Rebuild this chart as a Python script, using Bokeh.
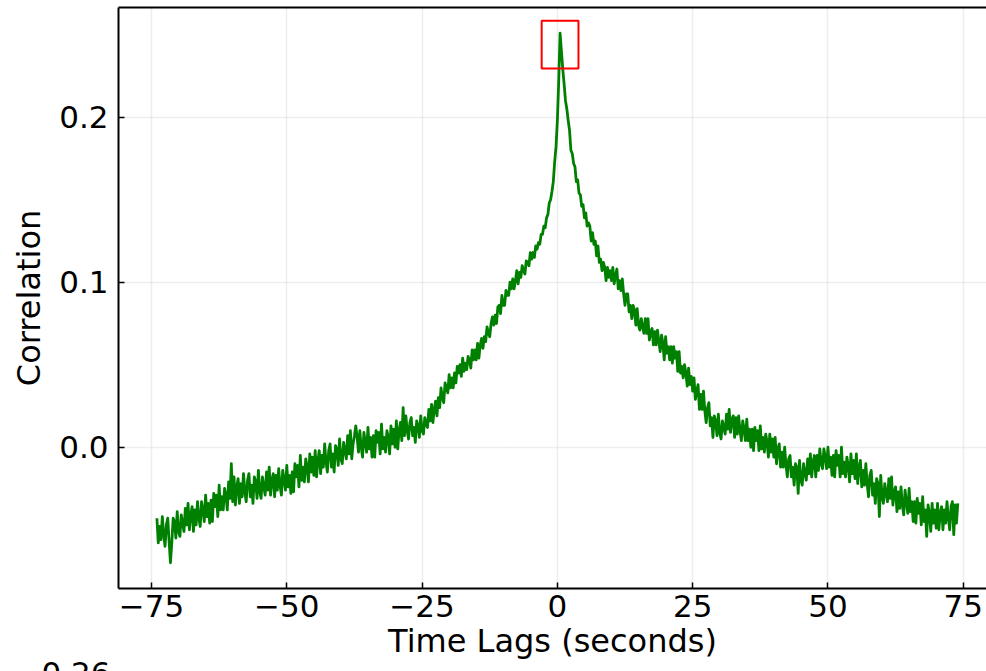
import numpy as np
from bokeh.plotting import figure
from bokeh.models import (FixedTicker, NumeralTickFormatter, BoxAnnotation,
                          Title, Range1d, LinearAxis)
from bokeh.embed import file_html
from bokeh.resources import INLINE

# Cross-correlation sampled every 0.25 s of lag, from -74 s to +74 s
# (one row = 5 s of lag)
lag_start, lag_stop, lag_step = -74.0, 74.0, 0.25
correlation = [
    -0.043, -0.058, -0.048, -0.056, -0.042, -0.053, -0.060, -0.047, -0.043, -0.057,
    -0.070, -0.058, -0.043, -0.045, -0.055, -0.039, -0.051, -0.054, -0.041, -0.046,
    -0.051, -0.037, -0.047, -0.034, -0.050, -0.041, -0.036, -0.051, -0.038, -0.047,
    -0.033, -0.043, -0.048, -0.033, -0.038, -0.045, -0.029, -0.042, -0.034, -0.046,
    -0.032, -0.045, -0.028, -0.036, -0.029, -0.042, -0.023, -0.038, -0.030, -0.038,
    -0.025, -0.029, -0.038, -0.021, -0.031, -0.010, -0.033, -0.018, -0.035, -0.024,
    -0.019, -0.034, -0.022, -0.030, -0.016, -0.027, -0.033, -0.020, -0.016, -0.030,
    -0.023, -0.034, -0.018, -0.021, -0.031, -0.014, -0.027, -0.031, -0.018, -0.024,
    -0.029, -0.015, -0.026, -0.012, -0.029, -0.020, -0.016, -0.030, -0.017, -0.026,
    -0.013, -0.023, -0.029, -0.014, -0.020, -0.026, -0.011, -0.024, -0.017, -0.028,
    -0.015, -0.027, -0.010, -0.018, -0.011, -0.024, -0.005, -0.020, -0.012, -0.021,
    -0.007, -0.012, -0.021, -0.004, -0.015, -0.006, -0.017, -0.002, -0.018, -0.008,
    -0.002, -0.016, -0.005, -0.012, 0.002, -0.009, -0.015, -0.002, 0.002, -0.012,
    -0.004, -0.015, 0.001, -0.001, -0.011, 0.005, -0.007, -0.010, 0.003, -0.002,
    -0.007, 0.007, -0.004, 0.010, -0.007, 0.002, 0.007, 0.013, 0.006, -0.003,
    0.010, 0.000, -0.006, 0.009, 0.003, -0.003, 0.012, -0.001, 0.006, -0.006,
    0.007, -0.006, 0.010, 0.003, 0.009, -0.004, 0.014, -0.001, 0.006, -0.003,
    0.010, 0.006, -0.004, 0.013, 0.002, 0.011, 0.000, 0.016, -0.001, 0.010,
    0.015, 0.004, 0.024, 0.007, 0.019, 0.010, 0.005, 0.015, 0.018, 0.007,
    0.012, 0.003, 0.016, 0.013, 0.006, 0.019, 0.010, 0.008, 0.018, 0.014,
    0.012, 0.023, 0.016, 0.026, 0.015, 0.023, 0.028, 0.019, 0.030, 0.024,
    0.036, 0.030, 0.027, 0.039, 0.036, 0.033, 0.044, 0.036, 0.042, 0.036,
    0.045, 0.039, 0.049, 0.045, 0.050, 0.043, 0.054, 0.046, 0.051, 0.047,
    0.055, 0.053, 0.048, 0.059, 0.053, 0.059, 0.053, 0.063, 0.054, 0.062,
    0.066, 0.060, 0.067, 0.064, 0.073, 0.069, 0.067, 0.075, 0.079, 0.074,
    0.080, 0.075, 0.085, 0.086, 0.081, 0.092, 0.086, 0.086, 0.095, 0.092,
    0.092, 0.100, 0.096, 0.102, 0.096, 0.101, 0.107, 0.099, 0.106, 0.103,
    0.110, 0.107, 0.105, 0.113, 0.112, 0.110, 0.118, 0.114, 0.118, 0.115,
    0.122, 0.120, 0.124, 0.123, 0.129, 0.129, 0.134, 0.133, 0.139, 0.141,
    0.148, 0.150, 0.155, 0.161, 0.173, 0.182, 0.198, 0.222, 0.251, 0.240,
    0.229, 0.220, 0.210, 0.205, 0.198, 0.192, 0.180, 0.178, 0.172, 0.170,
    0.161, 0.162, 0.154, 0.153, 0.146, 0.147, 0.139, 0.142, 0.134, 0.136,
    0.134, 0.125, 0.130, 0.123, 0.125, 0.116, 0.122, 0.112, 0.114, 0.107,
    0.112, 0.109, 0.101, 0.109, 0.103, 0.107, 0.101, 0.109, 0.099, 0.104,
    0.108, 0.096, 0.101, 0.095, 0.102, 0.093, 0.086, 0.093, 0.093, 0.082,
    0.086, 0.078, 0.086, 0.083, 0.074, 0.084, 0.074, 0.071, 0.078, 0.073,
    0.069, 0.078, 0.069, 0.078, 0.065, 0.070, 0.072, 0.062, 0.070, 0.062,
    0.071, 0.064, 0.058, 0.068, 0.063, 0.053, 0.067, 0.057, 0.061, 0.053,
    0.061, 0.051, 0.061, 0.054, 0.058, 0.046, 0.058, 0.045, 0.049, 0.042,
    0.050, 0.045, 0.037, 0.048, 0.038, 0.043, 0.034, 0.042, 0.029, 0.034,
    0.038, 0.023, 0.032, 0.023, 0.034, 0.022, 0.015, 0.024, 0.027, 0.013,
    0.018, 0.006, 0.019, 0.016, 0.007, 0.020, 0.009, 0.005, 0.016, 0.012,
    0.008, 0.020, 0.011, 0.023, 0.009, 0.017, 0.019, 0.006, 0.018, 0.008,
    0.019, 0.010, 0.004, 0.016, 0.011, 0.004, 0.017, 0.004, 0.011, 0.000,
    0.011, -0.002, 0.012, 0.004, 0.010, -0.002, 0.013, -0.001, 0.006, -0.003,
    0.008, 0.003, -0.006, 0.008, -0.003, 0.005, -0.006, 0.006, -0.010, -0.001,
    0.002, -0.012, -0.003, -0.012, 0.000, -0.011, -0.018, -0.007, -0.005, -0.018,
    -0.012, -0.023, -0.010, -0.012, -0.028, -0.008, -0.020, -0.023, -0.010, -0.016,
    -0.020, -0.007, -0.016, -0.004, -0.018, -0.009, -0.005, -0.018, -0.005, -0.014,
    -0.001, -0.010, -0.013, -0.001, -0.006, -0.013, 0.000, -0.012, -0.006, -0.017,
    -0.005, -0.018, -0.002, -0.011, -0.005, -0.018, 0.000, -0.016, -0.009, -0.018,
    -0.006, -0.011, -0.021, -0.004, -0.016, -0.008, -0.019, -0.004, -0.022, -0.012,
    -0.008, -0.024, -0.014, -0.023, -0.010, -0.022, -0.030, -0.017, -0.014, -0.029,
    -0.022, -0.034, -0.019, -0.022, -0.042, -0.017, -0.030, -0.034, -0.022, -0.028,
    -0.033, -0.019, -0.031, -0.018, -0.035, -0.027, -0.024, -0.039, -0.027, -0.037,
    -0.024, -0.035, -0.041, -0.026, -0.033, -0.040, -0.025, -0.039, -0.033, -0.045,
    -0.033, -0.046, -0.031, -0.040, -0.034, -0.047, -0.030, -0.045, -0.038, -0.054,
    -0.035, -0.040, -0.051, -0.034, -0.046, -0.038, -0.049, -0.034, -0.050, -0.040,
    -0.036, -0.050, -0.038, -0.046, -0.033, -0.043, -0.050, -0.036, -0.033, -0.053,
    -0.035, -0.046, -0.034,
]
lags = np.arange(lag_start, lag_stop + lag_step / 2, lag_step)

x_ticks = [-75, -50, -25, 0, 25, 50, 75]
x_tick_labels = ["\u221275", "\u221250", "\u221225", "0", "25", "50", "75"]
y_ticks = [0.0, 0.1, 0.2]
next_panel_label = "0.26"

FONT = "DejaVu Sans"
TICK_SIZE = "31px"
LABEL_SIZE = "32px"

p = figure(width=986, height=671, output_backend="svg", toolbar_location=None,
           x_range=Range1d(-81.1, 79.3), y_range=Range1d(-0.0856, 0.2665),
           min_border_left=118, min_border_right=0, min_border_top=7,
           min_border_bottom=83,
           x_axis_label="Time Lags (seconds)", y_axis_label="Correlation")
p.outline_line_color = None
p.background_fill_color = "white"
p.border_fill_color = "white"

xax = p.below[0]
yax = p.left[0]

xax.ticker = FixedTicker(ticks=x_ticks)
xax.major_label_overrides = dict(zip(x_ticks, x_tick_labels))
yax.ticker = FixedTicker(ticks=y_ticks)
yax.formatter = NumeralTickFormatter(format="0.0")

for ax in (xax, yax):
    ax.axis_line_color = "black"
    ax.axis_line_width = 2
    ax.major_tick_in = 6
    ax.major_tick_out = 0
    ax.major_tick_line_color = "black"
    ax.major_tick_line_width = 1.5
    ax.minor_tick_line_color = None
    ax.major_label_text_font = FONT
    ax.major_label_text_font_size = TICK_SIZE
    ax.major_label_text_color = "black"
    ax.axis_label_text_font = FONT
    ax.axis_label_text_font_size = LABEL_SIZE
    ax.axis_label_text_font_style = "normal"
    ax.axis_label_text_color = "black"
xax.major_label_standoff = 6
xax.axis_label_standoff = 2
yax.major_label_standoff = 10
yax.axis_label_standoff = 8

# top spine: a bare axis line without ticks or labels
top = LinearAxis(ticker=FixedTicker(ticks=[]), major_label_text_font_size="0px",
                 major_label_standoff=0, major_tick_line_color=None,
                 minor_tick_line_color=None, axis_line_color="black",
                 axis_line_width=2)
p.add_layout(top, "above")

for g in (p.xgrid[0], p.ygrid[0]):
    g.grid_line_color = "#dcdcdc"
    g.grid_line_width = 1.5
    g.grid_line_dash = "1 1"

p.line(lags, correlation, line_color="#008000", line_width=2.8,
       line_join="round")

# highlight box around the maximum
peak_i = int(np.argmax(correlation))
peak_lag, peak_val = lags[peak_i], correlation[peak_i]
p.add_layout(BoxAnnotation(left=peak_lag - 3.4, right=peak_lag + 3.4,
                           bottom=peak_val - 0.0215, top=peak_val + 0.0075,
                           fill_color=None, fill_alpha=0,
                           line_color="red", line_alpha=1.0, line_width=2))

# tick label of the panel below, cut by the page edge
p.add_layout(Title(text=next_panel_label, align="left", offset=-77,
                   standoff=-42, vertical_align="bottom",
                   text_font=FONT, text_font_size=TICK_SIZE,
                   text_font_style="normal", text_color="black"), "below")

open("out.html", "w").write(file_html(p, INLINE))
